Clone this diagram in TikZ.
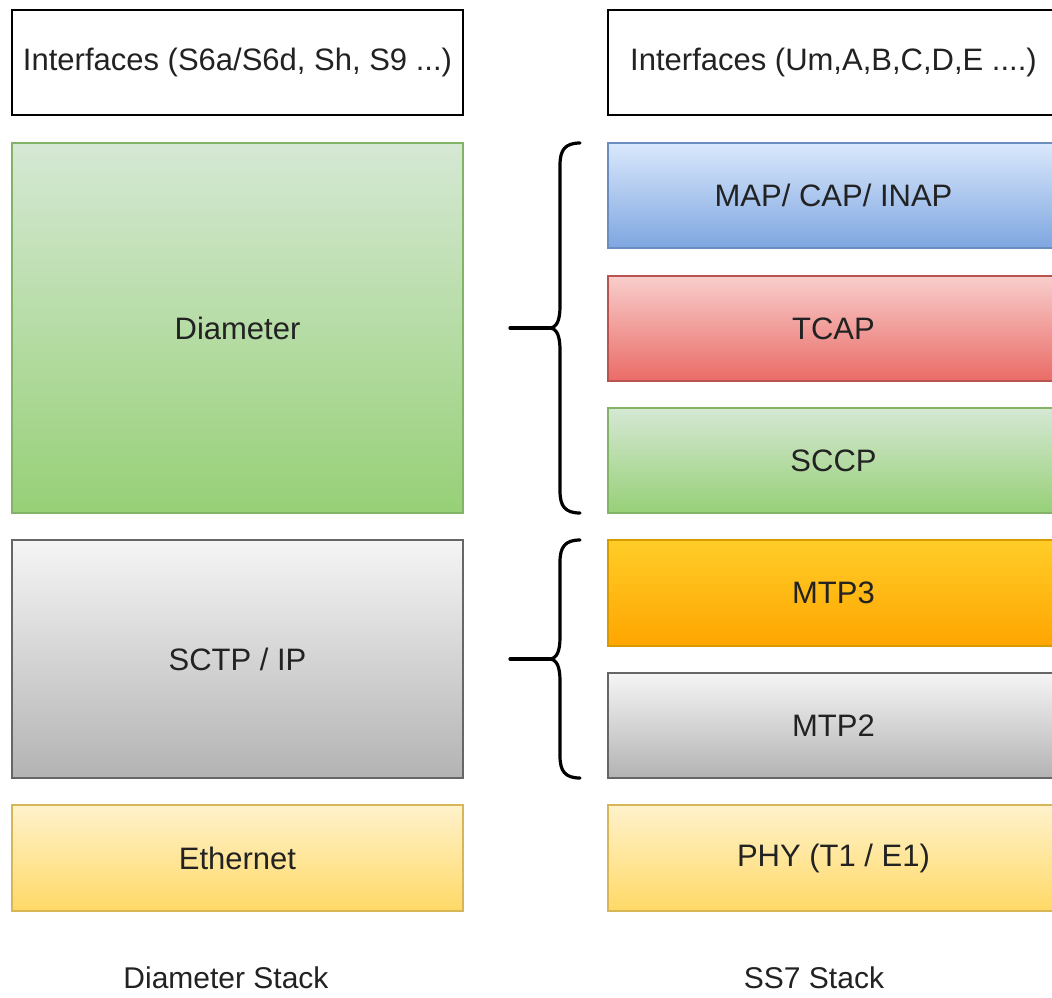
\documentclass[tikz,border=0pt]{standalone}
\usepackage{fontspec}
\setmainfont{Liberation Sans}
\definecolor{txt}{HTML}{222222}
\definecolor{grnA}{HTML}{D5E8D4}\definecolor{grnB}{HTML}{97D077}\definecolor{grnL}{HTML}{82B366}
\definecolor{bluA}{HTML}{DAE8FC}\definecolor{bluB}{HTML}{7EA6E0}\definecolor{bluL}{HTML}{6C8EBF}
\definecolor{redA}{HTML}{F8CECC}\definecolor{redB}{HTML}{EA6B66}\definecolor{redL}{HTML}{B85450}
\definecolor{gryA}{HTML}{F5F5F5}\definecolor{gryB}{HTML}{B3B3B3}\definecolor{gryL}{HTML}{666666}
\definecolor{orgA}{HTML}{FFCD28}\definecolor{orgB}{HTML}{FFA500}\definecolor{orgL}{HTML}{D79B00}
\definecolor{ylwA}{HTML}{FFF2CC}\definecolor{ylwB}{HTML}{FFD966}\definecolor{ylwL}{HTML}{D6B656}
\tikzset{
  layer/.style={draw, line width=1.5pt, minimum width=451pt, minimum height=105pt,
    inner sep=0pt, text=txt, font=\fontsize{31}{36}\selectfont},
  iface/.style={layer, draw=black, line width=2pt, fill=white},
  green/.style={layer, draw=grnL, top color=grnA, bottom color=grnB},
  blue/.style={layer, draw=bluL, top color=bluA, bottom color=bluB},
  red/.style={layer, draw=redL, top color=redA, bottom color=redB},
  grey/.style={layer, draw=gryL, top color=gryA, bottom color=gryB},
  orange/.style={layer, draw=orgL, top color=orgA, bottom color=orgB},
  yellow/.style={layer, draw=ylwL, top color=ylwA, bottom color=ylwB},
  caption/.style={inner sep=0pt, anchor=base, text=txt, font=\fontsize{30}{36}\selectfont},
  curly/.style={line width=3.2pt, line cap=round}
}
\begin{document}
\begin{tikzpicture}[x=1pt,y=-1pt]
  \useasboundingbox (0,0) rectangle (1052,997);
  \clip (0,0) rectangle (1052,997);
  \def\lx{237.5}
  \def\rx{833.5}
  % diameter stack
  \node[iface] (ifd) at (\lx,62.5) {Interfaces (S6a/S6d, Sh, S9 ...)};
  \node[green, minimum height=370pt] (dia) at (\lx,328) {Diameter};
  \node[grey, minimum height=238pt] (sctp) at (\lx,659) {SCTP / IP};
  \node[yellow, minimum height=106pt] (eth) at (\lx,858) {Ethernet};
  \node[caption] (dstack) at (226,988) {Diameter Stack};
  % ss7 stack
  \node[iface] (ifs) at (\rx,62.5) {Interfaces (Um,A,B,C,D,E ....)};
  \node[blue] (map) at (\rx,195.5) {MAP/ CAP/ INAP};
  \node[red] (tcap) at (\rx,328.5) {TCAP};
  \node[green] (sccp) at (\rx,460.5) {SCCP};
  \node[orange, minimum height=106pt] (mtp3) at (\rx,593) {MTP3};
  \node[grey] (mtp2) at (\rx,725.5) {MTP2};
  \node[yellow, minimum height=106pt] (phy) at (\rx,858) {PHY (T1 / E1)};
  \node[caption] (sstack) at (814,988) {SS7 Stack};
  % braces
  \draw[curly] (580,143) .. controls (565,143) and (560,150) .. (560,165) -- (560,306)
    .. controls (560,320) and (557,328) .. (549,328)
    .. controls (557,328) and (560,336) .. (560,350) -- (560,491)
    .. controls (560,506) and (565,513) .. (580,513);
  \draw[curly] (510,328) -- (549,328);
  \draw[curly] (580,540) .. controls (565,540) and (560,547) .. (560,562) -- (560,637)
    .. controls (560,651) and (557,659) .. (549,659)
    .. controls (557,659) and (560,667) .. (560,681) -- (560,756)
    .. controls (560,771) and (565,778) .. (580,778);
  \draw[curly] (510,659) -- (549,659);
\end{tikzpicture}
\end{document}
